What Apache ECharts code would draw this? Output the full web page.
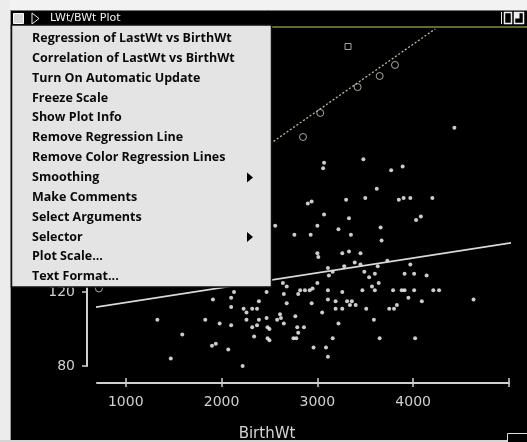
<!DOCTYPE html>
<html>
<head>
<meta charset="utf-8">
<style>
  html, body { margin: 0; padding: 0; background: #000; }
  #chart { width: 527px; height: 442px; }
</style>
<script src="https://cdn.jsdelivr.net/npm/echarts@6/dist/echarts.min.js"></script>
</head>
<body>
<div id="chart"></div>
<script>
// BirthWt / LastWt pairs
const points = [
  [3070,190],[3060,187],[3480,192],[3890,188],[3770,186],[3620,176],[2900,168],[2940,169],
  [3300,170],[3500,171],[3850,170],[3900,171],[3970,171],[4200,171],[3070,162],[3330,160],
  [4030,159],[4080,161],[2560,156],[3000,156],[3220,154],[3660,155],[2760,151],[2930,151],
  [3350,151],[3670,148],[3000,141],[3010,139],[3260,141],[3330,142],[3450,141],[3110,133],
  [3160,131],[3120,129],[3280,134],[3390,136],[3450,135],[3630,134],[3730,137],[3970,135],
  [3910,130],[4010,130],[4140,129],[3490,131],[3600,130],[3540,128],[2640,125],[2680,123],
  [2950,122],[3000,125],[3570,123],[3640,125],[4430,209],[5030,123],[4210,121],[4270,121],
  [4630,116],[2470,120],[2820,121],[2870,121],[2920,121],[3110,121],[3260,120],[3470,121],
  [3600,121],[3790,121],[3880,121],[3910,121],[4010,121],[2650,119],[2800,119],[2680,114],
  [2940,114],[3110,116],[3190,115],[3310,115],[3360,115],[3340,113],[3400,113],[3950,117],
  [4090,115],[3830,113],[3750,111],[3800,111],[3510,111],[3190,111],[3260,111],[3050,109],
  [2470,106],[2580,105],[2610,108],[2620,106],[2770,107],[2650,103],[2480,101],[2500,100],
  [2790,101],[2860,101],[2800,98],[3220,103],[3590,105],[2480,95],[2500,94],[2750,95],
  [2780,95],[3160,95],[3650,95],[4020,95],[2960,90],[3090,90],[3110,85],[2100,117],
  [2130,120],[2100,112],[2390,115],[2230,111],[2260,109],[2320,111],[2370,111],[1910,116],
  [1330,105],[1830,105],[1980,103],[2100,102],[2260,105],[2390,105],[2370,102],[2320,101],
  [2340,96],[1590,97],[1900,91],[1940,92],[2070,89],[1470,84],[2220,80]
]
// selected points (drawn as open circles) and the one square
const circlePoints = [[720,122],[2850,204],[3030,217],[3420,231],[3650,237],[3810,243]]
const squarePoints = [[3320,253]]

// regression lines
const regressionLine = [[630,111.4],[5190,148]]
const colorRegressionLine = [[1000,146],[4230,262.5]]

const xTicks = [1000, 2000, 3000, 4000, 5000]
const xLabels = [1000, 2000, 3000, 4000]
const yTicks = [80, 120, 160, 200, 240]

const windowTitle = 'LWt/BWt Plot'
const menuItems = [
  'Regression of LastWt vs BirthWt',
  'Correlation of LastWt vs BirthWt',
  'Turn On Automatic Update',
  'Freeze Scale',
  'Show Plot Info',
  'Remove Regression Line',
  'Remove Color Regression Lines',
  'Smoothing',
  'Make Comments',
  'Select Arguments',
  'Selector',
  'Plot Scale...',
  'Text Format...'
]
const subMenuItems = ['Smoothing', 'Selector']

const axisColor = '#cfcfcf'
const labelFont = 'DejaVu Sans'

const chart = echarts.init(document.getElementById('chart'))

// window chrome + popup menu
const graphics = []
graphics.push({ type: 'rect', z: 100, shape: { x: 0, y: 0, width: 527, height: 10 }, style: { fill: '#f2f2f2' } })
graphics.push({ type: 'rect', z: 100, shape: { x: 0, y: 0, width: 10, height: 442 }, style: { fill: '#ececec' } })
graphics.push({ type: 'rect', z: 100, shape: { x: 0, y: 440, width: 527, height: 2 }, style: { fill: '#d4d4d4' } })
graphics.push({ type: 'line', z: 100, shape: { x1: 10, y1: 10.5, x2: 527, y2: 10.5 }, style: { stroke: '#777', lineWidth: 1 } })
graphics.push({ type: 'line', z: 100, shape: { x1: 10.5, y1: 10, x2: 10.5, y2: 440 }, style: { stroke: '#999', lineWidth: 1 } })
graphics.push({ type: 'line', z: 100, shape: { x1: 10, y1: 27, x2: 527, y2: 27 }, style: { stroke: '#7f8f45', lineWidth: 1.5 } })
// title bar boxes
graphics.push({ type: 'rect', z: 101, shape: { x: 13.5, y: 13.5, width: 10, height: 10 }, style: { fill: '#d8d8d8', stroke: '#fff', lineWidth: 1 } })
graphics.push({ type: 'polygon', z: 101, shape: { points: [[32, 13], [39, 18.5], [32, 24]] }, style: { fill: '#000', stroke: '#eee', lineWidth: 1 } })
graphics.push({ type: 'text', z: 101, x: 50, y: 18.5, style: { text: windowTitle, font: '11px "DejaVu Sans"', fill: '#f0f0f0', verticalAlign: 'middle' } })
graphics.push({ type: 'line', z: 101, shape: { x1: 501.5, y1: 12, x2: 501.5, y2: 24 }, style: { stroke: '#eee', lineWidth: 1 } })
graphics.push({ type: 'rect', z: 101, shape: { x: 504.5, y: 12.5, width: 7, height: 11 }, style: { fill: '#000', stroke: '#eee', lineWidth: 1.5 } })
graphics.push({ type: 'rect', z: 101, shape: { x: 514.5, y: 12.5, width: 9, height: 11 }, style: { fill: '#000', stroke: '#eee', lineWidth: 1.5 } })
graphics.push({ type: 'rect', z: 101, shape: { x: 514.5, y: 12.5, width: 5, height: 6 }, style: { fill: '#eee' } })
// resize box
graphics.push({ type: 'rect', z: 100, shape: { x: 507.5, y: 433.5, width: 22, height: 10 }, style: { fill: '#000', stroke: '#ddd', lineWidth: 1 } })
// menu
graphics.push({ type: 'rect', z: 110, shape: { x: 11.5, y: 25, width: 260, height: 262 }, style: { fill: '#e4e4e4', stroke: '#111', lineWidth: 1.5 } })
menuItems.forEach((item, i) => {
  const y = 38.5 + i * 19.85
  graphics.push({ type: 'text', z: 111, x: 32, y: y, style: { text: item, font: 'bold 12.5px "Open Sans"', fill: '#0a0a0a', verticalAlign: 'middle' } })
  if (subMenuItems.includes(item)) {
    graphics.push({ type: 'polygon', z: 111, shape: { points: [[247, y - 5], [253, y], [247, y + 5]] }, style: { fill: '#000' } })
  }
})

const option = {
  backgroundColor: '#000',
  animation: false,
  grid: { left: 97, right: 18, top: 28, bottom: 76, outerBoundsMode: 'none' },
  xAxis: [
    {
      type: 'value',
      min: 700,
      max: 5000,
      position: 'bottom',
      offset: 17,
      name: 'BirthWt',
      nameLocation: 'middle',
      nameGap: 44,
      nameTextStyle: { color: '#d4d4d4', fontSize: 15, fontFamily: labelFont, padding: [0, 72, 0, 0] },
      axisLine: { lineStyle: { color: axisColor, width: 2 } },
      axisTick: { customValues: xTicks, length: 4, lineStyle: { color: axisColor, width: 1.5 } },
      axisLabel: { customValues: xLabels, formatter: v => String(v), color: '#d0d0d0', fontSize: 14, fontFamily: labelFont, margin: 12 },
      splitLine: { show: false }
    },
    {
      type: 'value',
      min: 700,
      max: 5000,
      position: 'bottom',
      offset: 17,
      axisLine: { show: false },
      axisTick: { customValues: xTicks, inside: true, length: 5, lineStyle: { color: axisColor, width: 1.5 } },
      axisLabel: { show: false },
      splitLine: { show: false }
    }
  ],
  yAxis: {
    type: 'value',
    min: 80,
    max: 263,
    position: 'left',
    offset: 10,
    name: 'LastWt',
    nameTextStyle: { color: '#d4d4d4', fontSize: 14, fontFamily: labelFont },
    axisLine: { lineStyle: { color: axisColor, width: 2 } },
    axisTick: { customValues: yTicks, length: 5, lineStyle: { color: axisColor, width: 1.5 } },
    axisLabel: { customValues: yTicks, formatter: v => String(v), color: '#d0d0d0', fontSize: 14, fontFamily: labelFont, margin: 12 },
    splitLine: { show: false }
  },
  series: [
    {
      name: 'LastWt vs BirthWt',
      type: 'scatter',
      data: points,
      symbol: 'circle',
      symbolSize: 4,
      itemStyle: { color: '#ffffff' }
    },
    {
      name: 'selected',
      type: 'scatter',
      data: circlePoints,
      symbol: 'circle',
      symbolSize: 7,
      itemStyle: { color: 'rgba(0,0,0,0)', borderColor: '#d0d0c4', borderWidth: 1 }
    },
    {
      name: 'marked',
      type: 'scatter',
      data: squarePoints,
      symbol: 'rect',
      symbolSize: 6,
      itemStyle: { color: 'rgba(0,0,0,0)', borderColor: '#d0d0c4', borderWidth: 1 }
    },
    {
      name: 'regression',
      type: 'line',
      data: regressionLine,
      clip: false,
      showSymbol: false,
      lineStyle: { color: '#dadada', width: 1.8 }
    },
    {
      name: 'color regression',
      type: 'line',
      data: colorRegressionLine,
      clip: false,
      showSymbol: false,
      lineStyle: { color: '#bcbaa2', width: 1.3, type: [2, 2] }
    }
  ],
  graphic: { elements: graphics }
}

chart.setOption(option)
</script>
</body>
</html>
